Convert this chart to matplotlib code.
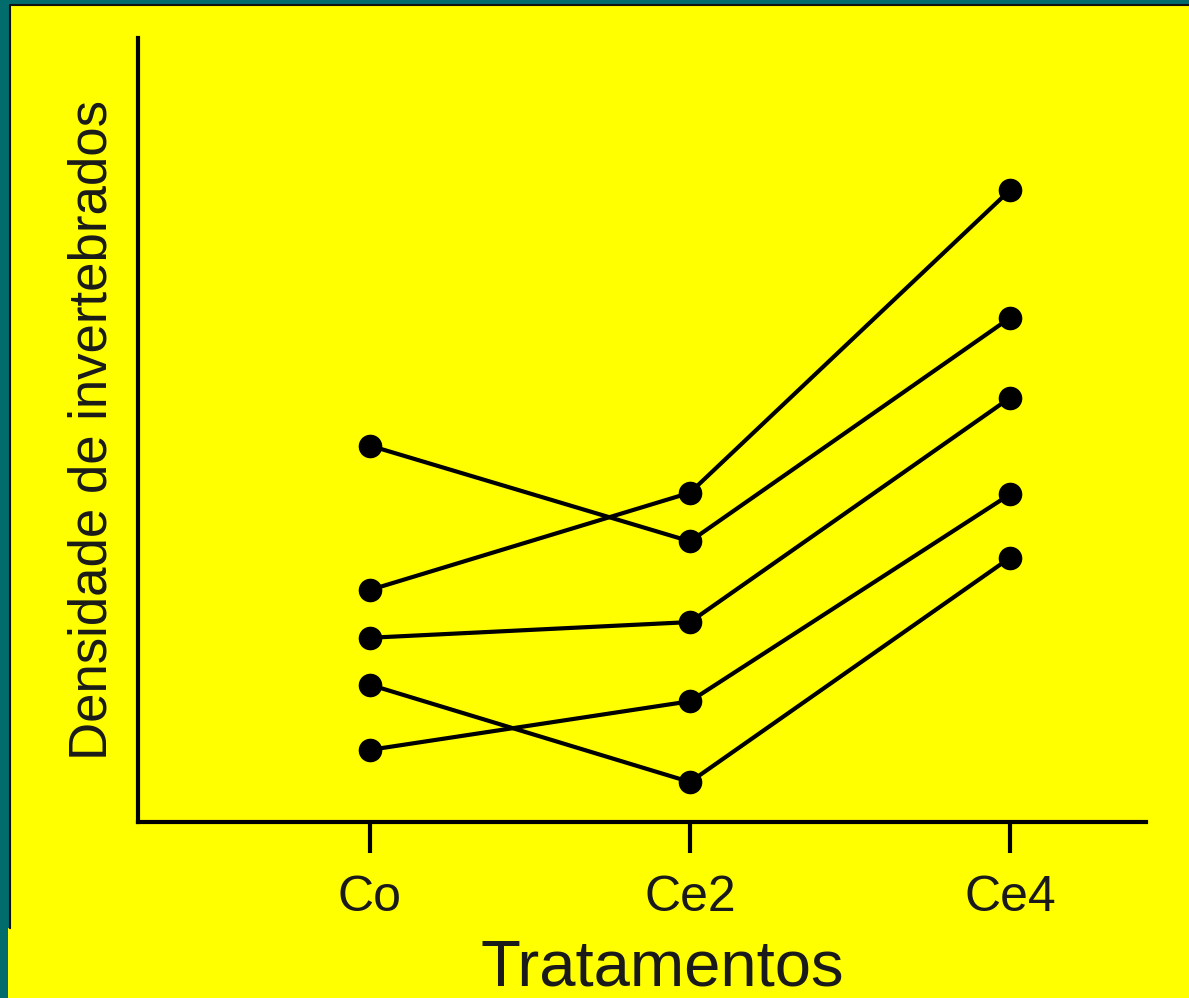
import matplotlib
matplotlib.use("Agg")
import matplotlib.pyplot as plt
from matplotlib.patches import Rectangle
from matplotlib.lines import Line2D

plt.rcParams['font.family'] = ['Liberation Sans', 'DejaVu Sans']

categorias = ["Co", "Ce2", "Ce4"]
linha1 = [48.0, 35.8, 64.3]
linha2 = [29.6, 42.0, 80.6]
linha3 = [23.5, 25.5, 54.1]
linha4 = [17.5, 5.1, 33.7]
linha5 = [9.2, 15.4, 41.8]
linhas = [linha1, linha2, linha3, linha4, linha5]

W, H = 1189, 998
fig = plt.figure(figsize=(W/100, H/100), dpi=100, facecolor="#026b6b")
# fundo amarelo, borda preta fina so em cima e a esquerda
fig.patches.append(Rectangle((10/W, 0), 1-10/W, 1-5/H, transform=fig.transFigure,
                             facecolor="#ffff00", edgecolor="none", zorder=0))
fig.patches.append(Rectangle((8/W, 0), 3/W, 70/H, transform=fig.transFigure,
                             facecolor="#ffff00", edgecolor="none", zorder=0))
fig.lines.append(Line2D([10/W, 10/W, 1], [70/H, 1-5/H, 1-5/H], transform=fig.transFigure,
                        color="#111111", lw=1.5, zorder=0.5))

ax = fig.add_axes([138/W, (H-822)/H, (1146-138)/W, (822-38)/H])
ax.set_zorder(2)
ax.set_facecolor("none")
for s in ["top", "right"]:
    ax.spines[s].set_visible(False)
for s in ["left", "bottom"]:
    ax.spines[s].set_linewidth(3)
    ax.spines[s].set_color("black")

x = range(len(categorias))
for ln in linhas:
    ax.plot(x, ln, color="black", lw=3, marker="o", ms=16, solid_capstyle="butt")

ax.set_xlim(-0.725, 2.425)
ax.set_ylim(0, 100)
ax.set_xticks(list(x))
ax.set_xticklabels(categorias, fontsize=36, color="#1a1a1a")
ax.set_yticks([])
ax.tick_params(axis="x", direction="out", length=22, width=3, pad=16)
ax.set_xlabel("Tratamentos", fontsize=47, color="#1a1a1a", labelpad=0)
ax.xaxis.set_label_coords(0.52, -0.148)
ax.set_ylabel("Densidade de invertebrados", fontsize=38, color="#1a1a1a")
ax.yaxis.set_label_coords(-0.02, 0.50)

fig.savefig("out.png", dpi=100, facecolor=fig.get_facecolor())
